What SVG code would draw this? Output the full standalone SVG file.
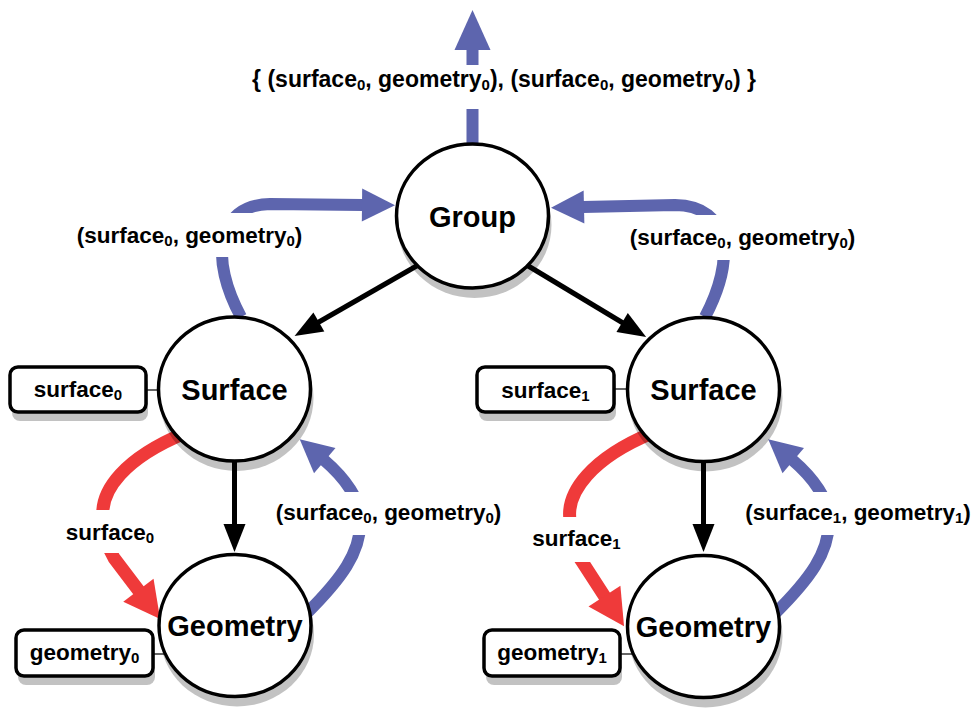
<svg xmlns="http://www.w3.org/2000/svg" width="975" height="710" viewBox="0 0 975 710">
<style>
  text { font-family: "Liberation Sans", Arial, sans-serif; font-weight: bold; fill: #000; text-anchor: middle; }
  .lbl { font-size: 22.5px; }
  .top { font-size: 23px; }
  .ntxt { font-size: 29px; }
  .sub { font-size: 15px; }
  .shadow { fill: #000; fill-opacity: 0.24; }
  .circ { fill: #fff; stroke: #000; stroke-width: 3.5; }
  .box { fill: #fff; stroke: #000; stroke-width: 3.5; }
  .blue { fill: none; stroke: #5d65ae; stroke-width: 12; }
  .red { fill: none; stroke: #ef3a3a; stroke-width: 13; }
  .black { fill: none; stroke: #000; stroke-width: 5; }
  .tie { fill: none; stroke: #333; stroke-width: 1.5; }
  .bg { fill: #fff; }
</style>
<defs>
  <marker id="hBlack" markerUnits="userSpaceOnUse" markerWidth="30" markerHeight="24" refX="1" refY="11" orient="auto" overflow="visible">
    <path d="M0,0 L28,11 L0,22 z" fill="#000"/>
  </marker>
  <marker id="hBlue" markerUnits="userSpaceOnUse" markerWidth="35" markerHeight="35" refX="1" refY="16.5" orient="auto" overflow="visible">
    <path d="M0,0 L33,16.5 L0,33 z" fill="#5d65ae"/>
  </marker>
  <marker id="hBlueBig" markerUnits="userSpaceOnUse" markerWidth="42" markerHeight="38" refX="1" refY="18" orient="auto" overflow="visible">
    <path d="M0,0 L40,18 L0,36 z" fill="#5d65ae"/>
  </marker>
  <marker id="hRed" markerUnits="userSpaceOnUse" markerWidth="38" markerHeight="40" refX="1" refY="19" orient="auto" overflow="visible">
    <path d="M0,0 L36,19 L0,38 z" fill="#ef3a3a"/>
  </marker>
</defs>

<g id="connectors">
  <!-- black tree edges -->
  <path class="black" d="M420 264 L318 322.5" marker-end="url(#hBlack)"/>
  <path class="black" d="M525 264 L623 323" marker-end="url(#hBlack)"/>
  <path class="black" d="M234.5 455 L234.5 525" marker-end="url(#hBlack)"/>
  <path class="black" d="M703.5 455 L703.5 525" marker-end="url(#hBlack)"/>

  <!-- blue result flows -->
  <path class="blue" d="M472.5 150 L472.5 49" marker-end="url(#hBlueBig)"/>
  <path class="blue" d="M241 317 C210 260 215 205 270 204 L363 205" marker-end="url(#hBlue)"/>
  <path class="blue" d="M705 317 C735 260 732 206 675 205 L583 207" marker-end="url(#hBlue)"/>
  <path class="blue" d="M307 613 C340 580 362 552 360 520 C361 500 345 478 324 460" marker-end="url(#hBlue)"/>
  <path class="blue" d="M775.5 613 C808.5 580 830.5 552 828.5 520 C829.5 500 813.5 478 792.5 460" marker-end="url(#hBlue)"/>

  <!-- red parameter flows -->
  <path class="red" d="M185 433 C125 458 100 490 103 518 C104 535 108 548 114 558 L139 591" marker-end="url(#hRed)"/>
  <path class="red" d="M652 433 C592 458 566 492 570 520 C571 537 574 550 581 560 L605 597" marker-end="url(#hRed)"/>

  <!-- ties from value boxes to nodes -->
  <path class="tie" d="M146 390 L158 390"/>
  <path class="tie" d="M614 389 L628 389"/>
  <path class="tie" d="M153 654 L166 654"/>
  <path class="tie" d="M620 654 L635 654"/>

  <!-- label backgrounds -->
  <rect class="bg" x="250" y="65" width="512" height="44"/>
  <rect class="bg" x="70" y="213" width="240" height="44"/>
  <rect class="bg" x="625" y="215" width="237" height="45"/>
  <rect class="bg" x="58" y="510" width="102" height="43"/>
  <rect class="bg" x="525" y="517" width="102" height="45"/>
  <rect class="bg" x="270" y="492" width="238" height="43"/>
  <rect class="bg" x="740" y="492" width="235" height="43"/>

  <!-- labels -->
  <text class="top" x="504" y="87">{ (surface<tspan class="sub" dy="2.5">0</tspan><tspan dy="-2.5">, geometry</tspan><tspan class="sub" dy="2.5">0</tspan><tspan dy="-2.5">), (surface</tspan><tspan class="sub" dy="2.5">0</tspan><tspan dy="-2.5">, geometry</tspan><tspan class="sub" dy="2.5">0</tspan><tspan dy="-2.5">) }</tspan></text>
  <text class="lbl" x="189.5" y="243">(surface<tspan class="sub" dy="2.5">0</tspan><tspan dy="-2.5">, geometry</tspan><tspan class="sub" dy="2.5">0</tspan><tspan dy="-2.5">)</tspan></text>
  <text class="lbl" x="742.5" y="245">(surface<tspan class="sub" dy="2.5">0</tspan><tspan dy="-2.5">, geometry</tspan><tspan class="sub" dy="2.5">0</tspan><tspan dy="-2.5">)</tspan></text>
  <text class="lbl" x="388.5" y="520">(surface<tspan class="sub" dy="2.5">0</tspan><tspan dy="-2.5">, geometry</tspan><tspan class="sub" dy="2.5">0</tspan><tspan dy="-2.5">)</tspan></text>
  <text class="lbl" x="858" y="520">(surface<tspan class="sub" dy="2.5">1</tspan><tspan dy="-2.5">, geometry</tspan><tspan class="sub" dy="2.5">1</tspan><tspan dy="-2.5">)</tspan></text>
  <text class="lbl" x="110" y="540">surface<tspan class="sub" dy="2.5">0</tspan></text>
  <text class="lbl" x="576.5" y="546">surface<tspan class="sub" dy="2.5">1</tspan></text>
</g>

<g id="node-group">
  <ellipse class="shadow" cx="474.5" cy="225" rx="77" ry="73"/>
  <ellipse class="circ" cx="472.5" cy="216" rx="76" ry="72"/>
  <text class="ntxt" x="472.5" y="227">Group</text>
</g>
<g id="node-surface-0">
  <ellipse class="shadow" cx="236.5" cy="398" rx="77" ry="73"/>
  <ellipse class="circ" cx="234.5" cy="389" rx="76" ry="72"/>
  <text class="ntxt" x="234.5" y="400">Surface</text>
</g>
<g id="node-geometry-0">
  <ellipse class="shadow" cx="237" cy="634.5" rx="77" ry="72"/>
  <ellipse class="circ" cx="235" cy="625.5" rx="76" ry="71"/>
  <text class="ntxt" x="235" y="636">Geometry</text>
</g>
<g id="node-surface-1">
  <ellipse class="shadow" cx="705.5" cy="398.5" rx="77" ry="73"/>
  <ellipse class="circ" cx="703.5" cy="389.5" rx="76" ry="72"/>
  <text class="ntxt" x="703.5" y="400">Surface</text>
</g>
<g id="node-geometry-1">
  <ellipse class="shadow" cx="705.5" cy="635.5" rx="77" ry="72"/>
  <ellipse class="circ" cx="703.5" cy="626.5" rx="76" ry="71"/>
  <text class="ntxt" x="703.5" y="637">Geometry</text>
</g>

<g id="value-surface-0">
  <rect class="shadow" x="12" y="376" width="136" height="45" rx="8"/>
  <rect class="box" x="10" y="367" width="136" height="45" rx="8"/>
  <text class="lbl" x="78" y="397">surface<tspan class="sub" dy="2.5">0</tspan></text>
</g>
<g id="value-surface-1">
  <rect class="shadow" x="479" y="376" width="137" height="45" rx="8"/>
  <rect class="box" x="477" y="367" width="137" height="45" rx="8"/>
  <text class="lbl" x="545.5" y="398">surface<tspan class="sub" dy="2.5">1</tspan></text>
</g>
<g id="value-geometry-0">
  <rect class="shadow" x="18" y="639" width="137" height="46" rx="8"/>
  <rect class="box" x="16" y="630" width="137" height="46" rx="8"/>
  <text class="lbl" x="84.5" y="660">geometry<tspan class="sub" dy="2.5">0</tspan></text>
</g>
<g id="value-geometry-1">
  <rect class="shadow" x="486" y="639" width="136" height="46" rx="8"/>
  <rect class="box" x="484" y="630" width="136" height="46" rx="8"/>
  <text class="lbl" x="552" y="660">geometry<tspan class="sub" dy="2.5">1</tspan></text>
</g>
</svg>
